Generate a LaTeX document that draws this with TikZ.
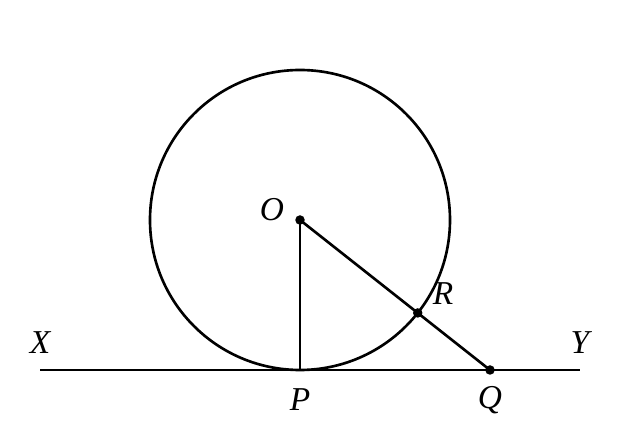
\documentclass[tikz,border=0pt]{standalone}
\usepackage{fontspec}
\setmainfont{Liberation Serif}
\usetikzlibrary{calc}
\begin{document}
\begin{tikzpicture}[
line width=1.5pt,
every node/.style={font=\fontsize{19}{22}\selectfont\itshape},
]
% \draw [help lines] (0,0) grid (12,8);
\useasboundingbox (0,0) rectangle (12.4,8.6);

\tikzset{
	dot/.style={circle, fill=black, inner sep=0pt, minimum size=0.19cm},
	lbl/.style={inner sep=1pt},
}

\coordinate (O) at (6,4.2);
\coordinate (P) at (6,1.2);
\coordinate (Q) at (9.8,1.2);
\coordinate (X) at (0.8,1.2);
\coordinate (Y) at (11.6,1.2);
\coordinate (R) at ($(O)!3cm!(Q)$);

\draw (O) circle (3);
\draw (X) -- (Y);
\draw (O) -- (P);
\draw (O) -- (Q);

\node[dot] (o) at (O) {};
\node[dot] (r) at (R) {};
\node[dot] (q) at (Q) {};

\node[lbl] (lo) at (5.44,4.4) {O};
\node[lbl] (lr) at (8.86,2.72) {R};
\node[lbl] (lx) at (0.8,1.74) {X};
\node[lbl] (ly) at (11.6,1.74) {Y};
\node[lbl] (lp) at (6,0.6) {P};
\node[lbl] (lq) at (9.8,0.6) {Q};

\end{tikzpicture}
\end{document}
